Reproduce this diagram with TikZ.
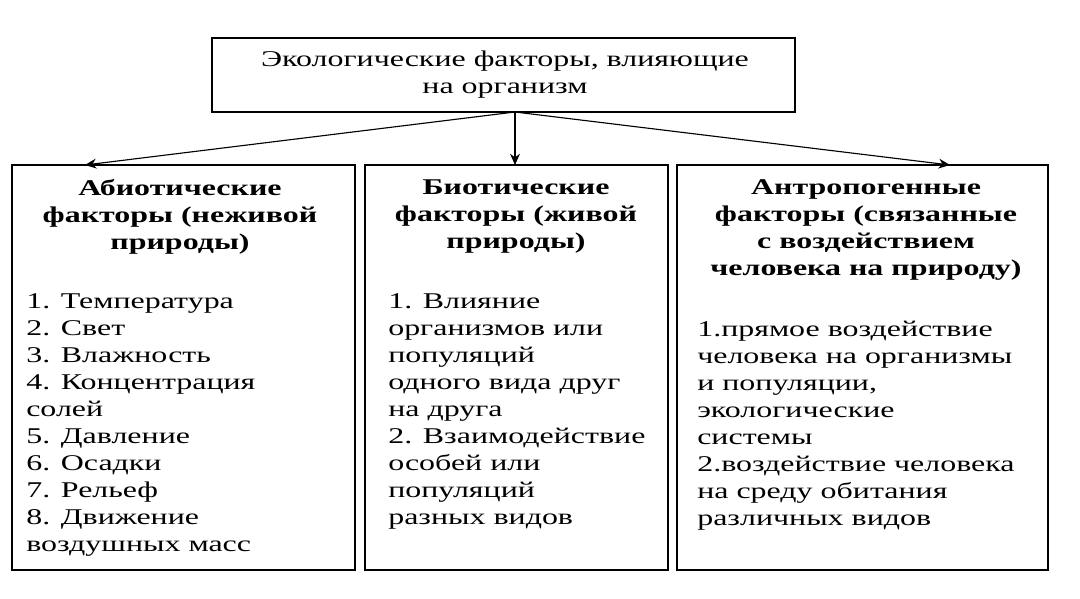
\documentclass[tikz,border=0pt]{standalone}
\usepackage{fontspec}
\setmainfont[FakeStretch=1.42]{Liberation Serif}
\usetikzlibrary{arrows.meta,positioning}

\tikzset{
  box/.style={draw,line width=0.9pt,inner sep=0pt},
  head/.style={font=\fontsize{16}{19.2}\selectfont\bfseries,align=center,anchor=north,inner sep=0pt},
  items/.style={font=\fontsize{16}{19.2}\selectfont,align=left,anchor=north west,inner sep=0pt},
  link/.style={-{Stealth[length=8pt,width=7pt]},line width=0.8pt}
}

\begin{document}
\begin{tikzpicture}[x=0.025cm,y=-0.025cm]
	\useasboundingbox (0,0) rectangle (1080,599);

	% boxes
	\draw[box] (212,38) rectangle (795,112);
	\draw[box] (12,165) rectangle (355,570);
	\draw[box] (365,165) rectangle (668,570);
	\draw[box] (677,165) rectangle (1048,570);

	\coordinate (top) at (515,112);
	\coordinate (abio) at (85,165);
	\coordinate (bio) at (515,165);
	\coordinate (anthro) at (950,165);

	\node[font=\fontsize{16}{19.2}\selectfont,align=center,inner sep=0pt] (main) at (505,75)
		{Экологические факторы, влияющие\\на организм};

	\draw[link] (top) -- (abio);
	\draw[link] (top) -- (bio);
	\draw[link] (top) -- (anthro);

	% headers
	\node[head] (h1) at (180,179) {Абиотические\\факторы (неживой\\природы)};
	\node[head] (h2) at (516,179) {Биотические\\факторы (живой\\природы)};
	\node[head] (h3) at (866,179) {Антропогенные\\факторы (связанные\\с воздействием\\человека на природу)};

	% lists
	\node[items] (l1) at (26,293) {1. Температура\\2. Свет\\3. Влажность\\4. Концентрация\\солей\\5. Давление\\6. Осадки\\7. Рельеф\\8. Движение\\воздушных масс};
	\node[items] (l2) at (388,293) {1. Влияние\\организмов или\\популяций\\одного вида друг\\на друга\\2. Взаимодействие\\особей или\\популяций\\разных видов};
	\node[items] (l3) at (697,321) {1.прямое воздействие\\человека на организмы\\и популяции,\\экологические\\системы\\2.воздействие человека\\на среду обитания\\различных видов};
\end{tikzpicture}
\end{document}
